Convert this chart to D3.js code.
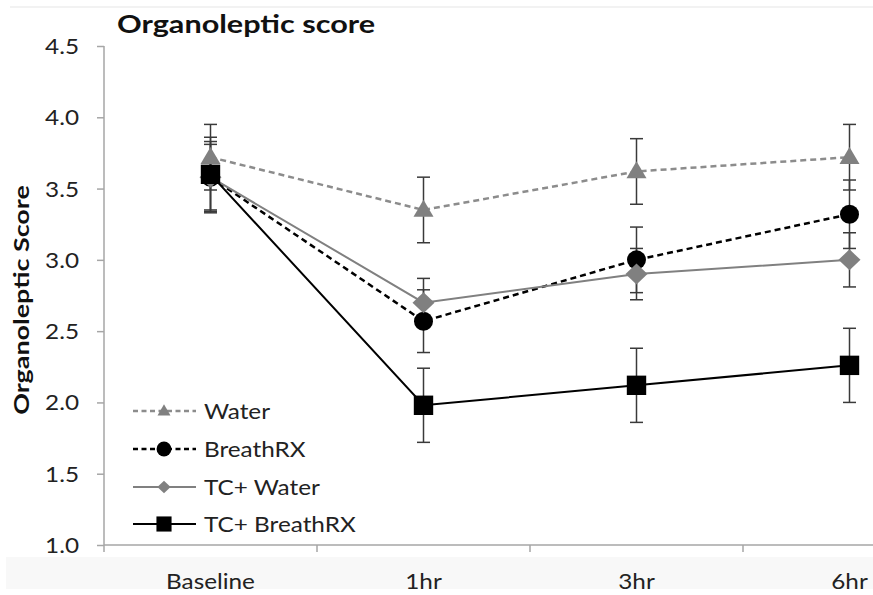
<!DOCTYPE html>
<html><head><meta charset="utf-8">
<script src="https://cdn.jsdelivr.net/npm/d3@7"></script>
<style>body{margin:0;background:#fff}svg{display:block}</style>
</head><body>
<script>
const categories = ["Baseline", "1hr", "3hr", "6hr"];
const seriesNames = ["Water", "BreathRX", "TC+ Water", "TC+ BreathRX"];
const waterMean = [3.72, 3.35, 3.62, 3.72];
const waterErr = [0.23, 0.23, 0.23, 0.23];
const breathMean = [3.58, 2.57, 3.00, 3.32];
const breathErr = [0.25, 0.22, 0.23, 0.24];
const tcWaterMean = [3.58, 2.70, 2.90, 3.00];
const tcWaterErr = [0.23, 0.17, 0.18, 0.19];
const tcBreathMean = [3.60, 1.98, 2.12, 2.26];
const tcBreathErr = [0.26, 0.26, 0.26, 0.26];
const yTicks = [1.0, 1.5, 2.0, 2.5, 3.0, 3.5, 4.0, 4.5];

const W = 873, H = 595;
const svg = d3.select("body").append("svg").attr("width", W).attr("height", H);
const font = "Lato, 'Open Sans', sans-serif";

function stretch(sel, k = 1.13) {
  sel.each(function () {
    const len = this.getComputedTextLength();
    d3.select(this).attr("textLength", len * k).attr("lengthAdjust", "spacingAndGlyphs");
  });
  return sel;
}

// faint frame remnants
svg.append("line").attr("x1", 10).attr("x2", W).attr("y1", 7).attr("y2", 7).attr("stroke", "#eeeeee").attr("stroke-width", 1.5);
svg.append("rect").attr("x", 6).attr("y", 557).attr("width", W - 6).attr("height", 32).attr("fill", "#f8f8f8");

const x0 = 104, x1 = 956;
const x = d3.scalePoint().domain(categories).range([x0, x1]).padding(0.5);
const step = x.step();
const y = d3.scaleLinear().domain([1.0, 4.5]).range([545, 46]);

const axisColor = "#a6a6a6";
// y axis
const yAxis = svg.append("g").attr("transform", `translate(${x0},0)`)
  .call(d3.axisLeft(y).tickValues(yTicks).tickFormat(d3.format(".1f")).tickSize(7).tickPadding(18));
yAxis.select(".domain").attr("stroke", axisColor).attr("stroke-width", 1.5).attr("d", `M0,${y(4.5)}V${y(1.0)}`);
yAxis.selectAll(".tick line").attr("stroke", axisColor).attr("stroke-width", 1.5);
stretch(yAxis.selectAll(".tick text").attr("font-family", font).attr("font-size", 21.5).attr("fill", "#222").attr("dy", "0.35em"));

// x axis
const xg = svg.append("g");
xg.append("line").attr("x1", x0).attr("x2", W).attr("y1", y(1.0)).attr("y2", y(1.0)).attr("stroke", axisColor).attr("stroke-width", 1.5);
categories.forEach(c => {
  const bx = x(c) - step / 2;
  xg.append("line").attr("x1", bx).attr("x2", bx).attr("y1", y(1.0)).attr("y2", y(1.0) + 7).attr("stroke", axisColor).attr("stroke-width", 1.5);
  stretch(xg.append("text").attr("x", x(c)).attr("y", 589).attr("text-anchor", "middle")
    .attr("font-family", font).attr("font-size", 21.5).attr("fill", "#222").text(c));
});

// titles
stretch(svg.append("text").attr("x", 117).attr("y", 33).attr("font-family", font).attr("font-weight", "bold")
  .attr("font-size", 25.5).attr("fill", "#111").text("Organoleptic score"), 1.2);
const yl = svg.append("text").attr("transform", "translate(29,300) rotate(-90)").attr("text-anchor", "middle")
  .attr("font-family", font).attr("font-weight", "bold").attr("font-size", 21).attr("fill", "#111").text("Organoleptic Score");
stretch(yl, 1.28);

const series = [
  {name: seriesNames[0], mean: waterMean, err: waterErr, color: "#8c8c8c", dash: "6,4", width: 2.5, marker: "triangle", mcolor: "#808080"},
  {name: seriesNames[1], mean: breathMean, err: breathErr, color: "#000", dash: "6,4", width: 2.5, marker: "circle", mcolor: "#000"},
  {name: seriesNames[2], mean: tcWaterMean, err: tcWaterErr, color: "#808080", dash: null, width: 2, marker: "diamond", mcolor: "#808080"},
  {name: seriesNames[3], mean: tcBreathMean, err: tcBreathErr, color: "#000", dash: null, width: 2, marker: "square", mcolor: "#000"}
];

function markerPath(type, s) {
  const p = d3.path();
  if (type === "triangle") {
    const w = 10 * s, h = 17 * s;
    p.moveTo(0, -h * 0.6); p.lineTo(w, h * 0.4); p.lineTo(-w, h * 0.4); p.closePath();
  } else if (type === "circle") {
    p.arc(0, 0, 9.5 * s, 0, 2 * Math.PI);
  } else if (type === "diamond") {
    const w = 11 * s, h = 10.5 * s;
    p.moveTo(0, -h); p.lineTo(w, 0); p.lineTo(0, h); p.lineTo(-w, 0); p.closePath();
  } else {
    const r = 9.7 * s;
    p.rect(-r, -r, 2 * r, 2 * r);
  }
  return p.toString();
}

// error bars
const eb = svg.append("g");
series.forEach(s => {
  categories.forEach((c, i) => {
    const cx = x(c), hi = y(s.mean[i] + s.err[i]), lo = y(s.mean[i] - s.err[i]);
    eb.append("line").attr("x1", cx).attr("x2", cx).attr("y1", hi).attr("y2", lo).attr("stroke", "#3a3a3a").attr("stroke-width", 1.5);
    [hi, lo].forEach(v => eb.append("line").attr("x1", cx - 6.5).attr("x2", cx + 6.5).attr("y1", v).attr("y2", v).attr("stroke", "#3a3a3a").attr("stroke-width", 1.5));
  });
});

const line = d3.line().x((d, i) => x(categories[i])).y(d => y(d));
series.forEach(s => {
  svg.append("path").datum(s.mean).attr("d", line).attr("fill", "none").attr("stroke", s.color)
    .attr("stroke-width", s.width).attr("stroke-dasharray", s.dash);
});
series.forEach(s => {
  s.mean.forEach((v, i) => {
    svg.append("path").attr("d", markerPath(s.marker, 1))
      .attr("transform", `translate(${x(categories[i])},${y(v)})`).attr("fill", s.mcolor);
  });
});

// legend
const legY = [411, 449, 487, 524];
series.forEach((s, i) => {
  const g = svg.append("g").attr("transform", `translate(0,${legY[i]})`);
  g.append("line").attr("x1", 133).attr("x2", 196).attr("y1", 0).attr("y2", 0).attr("stroke", s.color)
    .attr("stroke-width", s.width).attr("stroke-dasharray", s.dash ? "5,3.5" : null);
  g.append("path").attr("d", markerPath(s.marker, s.marker === "diamond" ? 0.6 : (s.marker === "triangle" ? 0.65 : 0.78)))
    .attr("transform", "translate(164,0)").attr("fill", s.mcolor);
  stretch(g.append("text").attr("x", 204).attr("y", 0).attr("dy", "0.36em").attr("font-family", font)
    .attr("font-size", 21.5).attr("fill", "#222").text(s.name));
});
</script>
</body></html>
